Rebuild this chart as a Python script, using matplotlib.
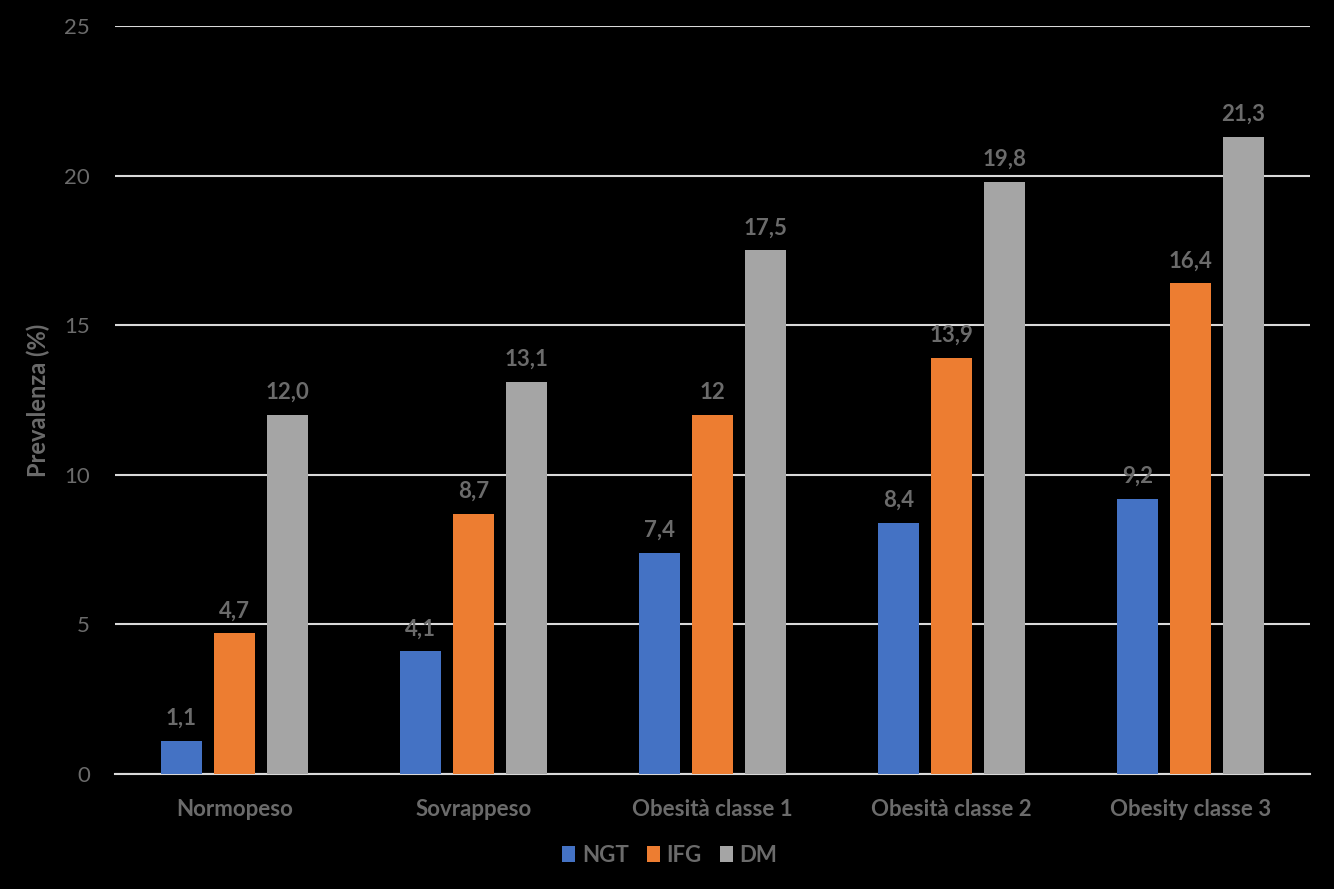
import numpy as np
import matplotlib
matplotlib.use('Agg')
import matplotlib.pyplot as plt

categories = ['Normopeso', 'Sovrappeso', 'Obesità classe 1', 'Obesità classe 2', 'Obesity classe 3']
series_names = ['NGT', 'IFG', 'DM']
ngt = [1.1, 4.1, 7.4, 8.4, 9.2]
ifg = [4.7, 8.7, 12.0, 13.9, 16.4]
dm = [12.0, 13.1, 17.5, 19.8, 21.3]
ngt_labels = ['1,1', '4,1', '7,4', '8,4', '9,2']
ifg_labels = ['4,7', '8,7', '12', '13,9', '16,4']
dm_labels = ['12,0', '13,1', '17,5', '19,8', '21,3']
yticks = [0, 5, 10, 15, 20, 25]

colors = ['#4472C4', '#ED7D31', '#A5A5A5']
text_col = '#6b6b6b'
grid_col = '#d9d9d9'

plt.rcParams['font.family'] = ['Lato', 'DejaVu Sans']

fig = plt.figure(figsize=(13.34, 8.89), dpi=100, facecolor='black')
ax = fig.add_axes([0.0862, 0.1294, 0.8958, 0.8414], facecolor='black')

x = np.arange(len(categories))
width = 0.1715
offset = 0.222
all_vals = [ngt, ifg, dm]
all_labels = [ngt_labels, ifg_labels, dm_labels]
for k in range(3):
    bars = ax.bar(x + (k - 1) * offset, all_vals[k], width, color=colors[k],
                  label=series_names[k], zorder=3)
    for b, lab in zip(bars, all_labels[k]):
        ax.text(b.get_x() + b.get_width() / 2, b.get_height() + 0.4, lab,
                ha='center', va='bottom', color=text_col, fontsize=16,
                fontweight='bold')

ax.set_xlim(-0.5, len(categories) - 0.5)
ax.set_ylim(0, 25)
ax.set_yticks(yticks)
ax.set_yticklabels([str(t) for t in yticks])
ax.yaxis.grid(True, color=grid_col, lw=1.5, zorder=0)
ax.set_axisbelow(True)
for s in ['top', 'right', 'left']:
    ax.spines[s].set_visible(False)
ax.spines['bottom'].set_color(grid_col)
ax.spines['bottom'].set_linewidth(1.5)
ax.tick_params(axis='y', length=0, pad=18, labelsize=16, labelcolor=text_col)
ax.set_xticks(x)
ax.set_xticklabels(categories)
ax.tick_params(axis='x', length=0, pad=18, labelsize=16, labelcolor=text_col)
for t in ax.get_xticklabels():
    t.set_fontweight('bold')
ax.set_ylabel('Prevalenza (%)', color=text_col, fontsize=17, fontweight='bold', labelpad=10)

leg = fig.legend(loc='center', bbox_to_anchor=(0.502, 0.038), ncol=3, frameon=False,
                 fontsize=16, handlelength=0.6, handleheight=0.7, handletextpad=0.3,
                 columnspacing=0.8)
for t in leg.get_texts():
    t.set_color(text_col)
    t.set_fontweight('bold')

fig.savefig('out.png', dpi=100, facecolor='black')
